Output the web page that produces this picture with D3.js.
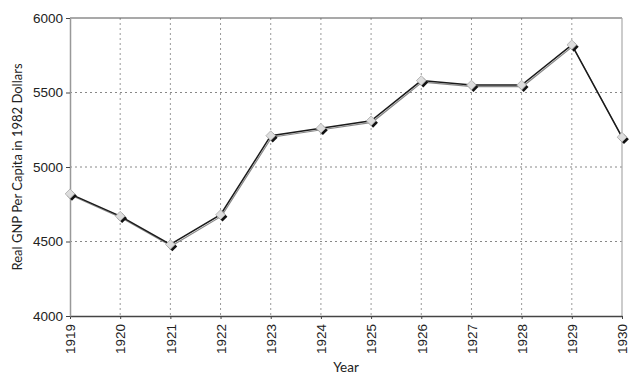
<!DOCTYPE html>
<html>
<head>
<meta charset="utf-8">
<script src="https://cdn.jsdelivr.net/npm/d3@7"></script>
<style>
  body { margin: 0; background: #fff; }
  svg { display: block; font-family: Lato, "Open Sans", sans-serif; }
</style>
</head>
<body>
<div class="container"></div>
<script>
const years = [1919, 1920, 1921, 1922, 1923, 1924, 1925, 1926, 1927, 1928, 1929, 1930];
const gnp = [4820, 4670, 4480, 4680, 5210, 5260, 5310, 5580, 5550, 5550, 5820, 5200];
const yTicks = [4000, 4500, 5000, 5500, 6000];

const margin = { top: 18, right: 13, bottom: 64, left: 70 };
const width = 635;
const height = 380;
const innerWidth = width - (margin.left + margin.right);
const innerHeight = height - (margin.top + margin.bottom);

let svg = d3.select(".container").append("svg")
  .attr("width", width).attr("height", height);

let g = svg.append("g")
  .attr("transform", `translate(${margin.left}, ${margin.top})`);

let xScale = d3.scaleLinear([1919, 1930], [0, innerWidth]);
let yScale = d3.scaleLinear([4000, 6000], [innerHeight, 0]);

// grid
g.append("g").selectAll("line")
  .data(years.slice(1, -1)).enter().append("line")
  .attr("x1", d => xScale(d)).attr("x2", d => xScale(d))
  .attr("y1", 0).attr("y2", innerHeight)
  .attr("stroke", "#999").attr("stroke-dasharray", "2,3");

g.append("g").selectAll("line")
  .data(yTicks.slice(1, -1)).enter().append("line")
  .attr("x1", 0).attr("x2", innerWidth)
  .attr("y1", d => yScale(d)).attr("y2", d => yScale(d))
  .attr("stroke", "#888").attr("stroke-dasharray", "2,3");

// frame top / right
g.append("line").attr("x1", 0).attr("x2", innerWidth).attr("y1", 0).attr("y2", 0)
  .attr("stroke", "#555").attr("stroke-width", 1.2);
g.append("line").attr("x1", innerWidth).attr("x2", innerWidth).attr("y1", 0).attr("y2", innerHeight)
  .attr("stroke", "#aaa").attr("stroke-width", 1.2);

// axes
let xAxis = d3.axisBottom(xScale).tickValues(years).tickFormat(d3.format("d"))
  .tickSizeInner(4).tickSizeOuter(0);
let yAxis = d3.axisLeft(yScale).tickValues(yTicks).tickFormat(d3.format("d"))
  .tickSizeInner(4).tickSizeOuter(0);

let gx = g.append("g").attr("transform", `translate(0, ${innerHeight})`).call(xAxis);
gx.select(".domain").attr("stroke", "#444").attr("stroke-width", 1.5);
gx.selectAll(".tick line").attr("stroke", "#444").attr("y2", 3);
gx.selectAll(".tick text")
  .attr("font-size", 13.5).attr("fill", "#222")
  .attr("transform", "rotate(-90)")
  .attr("text-anchor", "end")
  .attr("dy", "0.35em")
  .attr("x", -8).attr("y", 0);

let gy = g.append("g").call(yAxis);
gy.select(".domain").attr("stroke", "#999").attr("stroke-width", 1.5);
gy.selectAll(".tick line").attr("stroke", "#444");
gy.selectAll(".tick text").attr("font-size", 13.5).attr("fill", "#222").attr("x", -7);

// line with shadow
let line = d3.line().x((d, i) => xScale(years[i])).y(d => yScale(d));
g.append("path").datum(gnp)
  .attr("d", line).attr("fill", "none")
  .attr("stroke", "#888").attr("stroke-width", 1.2)
  .attr("transform", "translate(1,1.5)");
g.append("path").datum(gnp)
  .attr("d", line).attr("fill", "none")
  .attr("stroke", "#1a1a1a").attr("stroke-width", 1.5);

// diamond markers with dark shadow
let diamond = d3.symbol().type(d3.symbolDiamond2).size(60);
g.append("g").selectAll("path")
  .data(gnp).enter().append("path")
  .attr("d", diamond)
  .attr("transform", (d, i) => `translate(${xScale(years[i]) + 2}, ${yScale(d) + 2})`)
  .attr("fill", "#111");
g.append("g").selectAll("path")
  .data(gnp).enter().append("path")
  .attr("d", diamond)
  .attr("transform", (d, i) => `translate(${xScale(years[i])}, ${yScale(d)})`)
  .attr("fill", "#ddd").attr("stroke", "#aaa").attr("stroke-width", 0.8);

// labels
svg.append("text")
  .attr("x", margin.left + innerWidth / 2).attr("y", 372)
  .attr("text-anchor", "middle").attr("font-size", 13.5).attr("fill", "#222")
  .text("Year");

svg.append("text")
  .attr("transform", `translate(17, ${margin.top + innerHeight / 2}) rotate(-90)`)
  .attr("text-anchor", "middle").attr("dy", "0.35em")
  .attr("font-size", 13).attr("fill", "#222")
  .text("Real GNP Per Capita in 1982 Dollars");
</script>
</body>
</html>
